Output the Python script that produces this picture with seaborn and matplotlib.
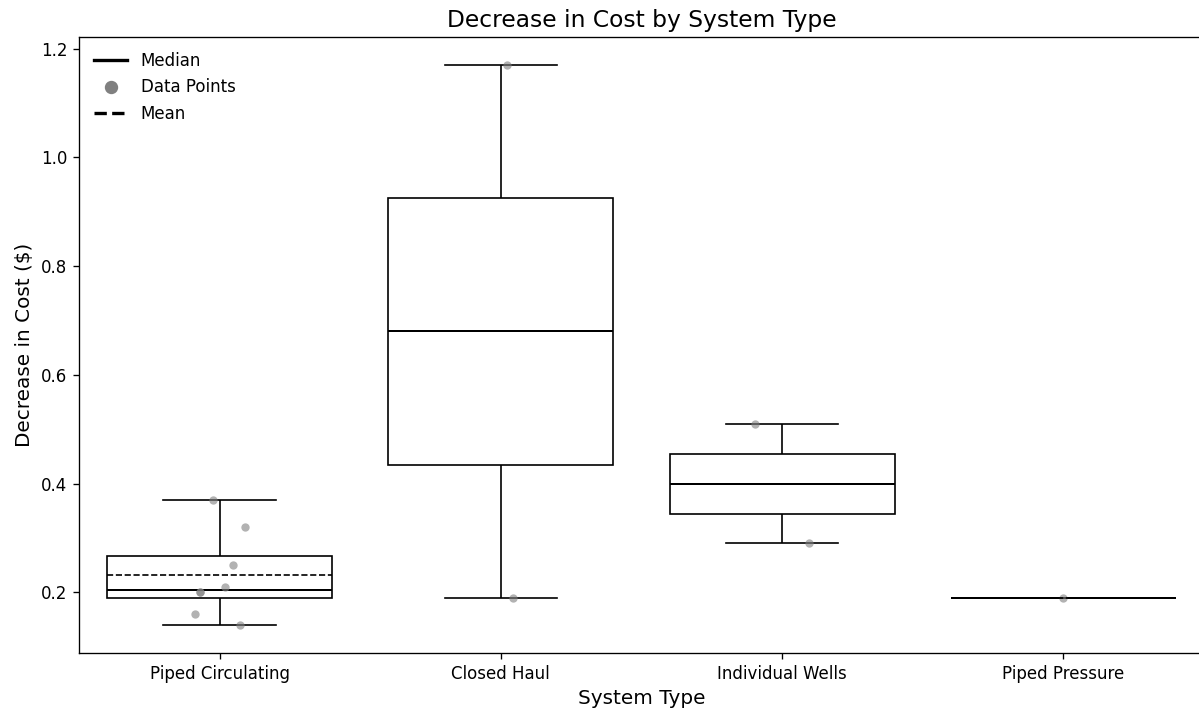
import numpy as np
import pandas as pd
import matplotlib
matplotlib.use("Agg")
import matplotlib.pyplot as plt
import seaborn as sns
from matplotlib.lines import Line2D

# -------------------------------
# Data
# -------------------------------
system_types = ["Piped Circulating", "Closed Haul", "Individual Wells", "Piped Pressure"]

piped_circulating = [0.37, 0.32, 0.25, 0.21, 0.20, 0.20, 0.16, 0.14]
closed_haul = [1.17, 0.19]
individual_wells = [0.51, 0.29]
piped_pressure = [0.19]

values = [piped_circulating, closed_haul, individual_wells, piped_pressure]

df = pd.DataFrame({
    "System Type": [s for s, v in zip(system_types, values) for _ in v],
    "Decrease in Cost": [x for v in values for x in v],
})

# -------------------------------
# Plot
# -------------------------------
fig = plt.figure(figsize=(1199 / 120, 713 / 120), dpi=120)
ax = fig.add_axes([79 / 1199, 60 / 713, 1125 / 1199, 616 / 713])

sns.boxplot(
    data=df, x="System Type", y="Decrease in Cost", order=system_types,
    ax=ax, color="white", linecolor="black", linewidth=1,
    showfliers=False, showmeans=True, meanline=True,
    meanprops={"color": "black", "linestyle": "--", "linewidth": 1, "zorder": 5},
    medianprops={"color": "black", "linewidth": 1.2},
)

np.random.seed(42)
sns.stripplot(
    data=df, x="System Type", y="Decrease in Cost", order=system_types,
    ax=ax, color="gray", alpha=0.6, size=5, jitter=True,
)

ax.set_title("Decrease in Cost by System Type", fontsize=14)
ax.set_xlabel("System Type", fontsize=12)
ax.set_ylabel("Decrease in Cost ($)", fontsize=12)

handles = [
    Line2D([0], [0], color="black", linewidth=2, label="Median"),
    Line2D([0], [0], marker="o", color="gray", linestyle="none", markersize=7, label="Data Points"),
    Line2D([0], [0], color="black", linewidth=2, linestyle="--", label="Mean"),
]
ax.legend(handles=handles, loc="upper left", frameon=False)

fig.savefig("out.png", dpi=120)
